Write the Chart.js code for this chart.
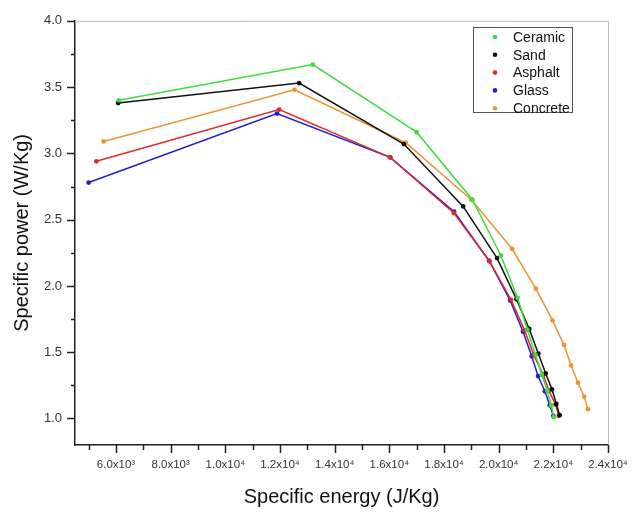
<!DOCTYPE html>
<html>
<head>
<meta charset="utf-8">
<script src="https://cdn.jsdelivr.net/npm/chart.js@4.4.1/dist/chart.umd.min.js"></script>
<style>
  html, body { margin: 0; padding: 0; background: #fff; }
  #wrap { width: 644px; height: 514px; }
</style>
</head>
<body>
<div id="wrap"><canvas id="chart"></canvas></div>
<script>
// data
const seriesNames = ['Ceramic', 'Sand', 'Asphalt', 'Glass', 'Concrete']

const ceramicEnergy = [6100, 13200, 17000, 19040, 20080, 20690, 21050, 21350, 21580, 21780, 21920, 22020]
const ceramicPower = [3.40, 3.67, 3.16, 2.65, 2.23, 1.91, 1.67, 1.48, 1.33, 1.21, 1.10, 1.01]

const sandEnergy = [6080, 12700, 16530, 18700, 19940, 20650, 21120, 21450, 21720, 21950, 22110, 22230]
const sandPower = [3.38, 3.53, 3.07, 2.60, 2.21, 1.90, 1.675, 1.49, 1.34, 1.22, 1.11, 1.025]

const asphaltEnergy = [5280, 11970, 16030, 18360, 19670, 20450, 20950, 21280, 21630, 21840, 22080, 22200]
const asphaltPower = [2.94, 3.33, 2.97, 2.55, 2.185, 1.895, 1.665, 1.48, 1.33, 1.21, 1.105, 1.02]

const glassEnergy = [5000, 11890, 16030, 18370, 19650, 20420, 20890, 21210, 21440, 21690, 21870, 22000]
const glassPower = [2.78, 3.30, 2.97, 2.56, 2.19, 1.89, 1.655, 1.47, 1.32, 1.205, 1.10, 1.02]

const concreteEnergy = [5550, 12530, 16600, 19000, 20490, 21360, 21970, 22390, 22650, 22900, 23130, 23265]
const concretePower = [3.09, 3.48, 3.08, 2.65, 2.28, 1.98, 1.74, 1.555, 1.40, 1.27, 1.165, 1.07]

// axis ticks
const xTicks = [6000, 8000, 10000, 12000, 14000, 16000, 18000, 20000, 22000, 24000]
const xMinorTicks = [5000, 7000, 9000, 11000, 13000, 15000, 17000, 19000, 21000, 23000]
const yTicks = [1.0, 1.5, 2.0, 2.5, 3.0, 3.5, 4.0]
const yMinorTicks = [1.25, 1.75, 2.25, 2.75, 3.25, 3.75]

const colors = ['#3fdc3f', '#111111', '#dd2a2a', '#2020cc', '#ec9432']
const FONT = "'Liberation Sans', Arial, sans-serif"

const toPoints = (xs, ys) => xs.map((x, i) => ({ x: x, y: ys[i] }))
const seriesData = [
  toPoints(ceramicEnergy, ceramicPower),
  toPoints(sandEnergy, sandPower),
  toPoints(asphaltEnergy, asphaltPower),
  toPoints(glassEnergy, glassPower),
  toPoints(concreteEnergy, concretePower),
]

const sup = { '0': '⁰', '1': '¹', '2': '²', '3': '³', '4': '⁴', '5': '⁵', '6': '⁶', '7': '⁷', '8': '⁸', '9': '⁹' }
function sciLabel(v) {
  const exp = Math.floor(Math.log10(v))
  const mant = (v / Math.pow(10, exp)).toFixed(1)
  return mant + 'x10' + String(exp).split('').map(c => sup[c]).join('')
}

// ticks (major + minor), frame and legend box
const decorPlugin = {
  id: 'decor',
  afterDraw(chart) {
    const ctx = chart.ctx
    const area = chart.chartArea
    const xs = chart.scales.x
    const ys = chart.scales.y
    ctx.save()
    // light frame on top and right
    ctx.strokeStyle = '#bdbdbd'
    ctx.lineWidth = 1
    ctx.beginPath()
    ctx.moveTo(area.left, area.top + 0.5)
    ctx.lineTo(area.right + 0.5, area.top + 0.5)
    ctx.lineTo(area.right + 0.5, area.bottom)
    ctx.stroke()

    ctx.strokeStyle = '#222'
    ctx.lineWidth = 1.5
    ctx.beginPath()
    const xTick = (v, len) => {
      const px = Math.round(xs.getPixelForValue(v)) + 0.5
      ctx.moveTo(px, area.bottom)
      ctx.lineTo(px, area.bottom + len)
    }
    const yTick = (v, len) => {
      const py = Math.round(ys.getPixelForValue(v)) + 0.5
      ctx.moveTo(area.left, py)
      ctx.lineTo(area.left - len, py)
    }
    xTicks.forEach(v => xTick(v, 8))
    xMinorTicks.forEach(v => xTick(v, 5))
    yTicks.forEach(v => yTick(v, 8))
    yMinorTicks.forEach(v => yTick(v, 4))
    ctx.stroke()

    // legend
    const bx = 473, by = 27, bw = 99, bh = 85
    ctx.strokeStyle = '#555'
    ctx.lineWidth = 1
    ctx.strokeRect(bx + 0.5, by + 0.5, bw, bh)
    ctx.font = '14px ' + FONT
    ctx.textBaseline = 'middle'
    ctx.textAlign = 'left'
    chart.data.datasets.forEach((ds, i) => {
      const y = 37 + i * 17.8
      ctx.fillStyle = ds.borderColor
      ctx.beginPath()
      ctx.arc(495, y, 2.3, 0, Math.PI * 2)
      ctx.fill()
      ctx.fillStyle = '#111'
      ctx.fillText(ds.label, 513, y + 1)
    })
    ctx.restore()
  },
}

new Chart(document.getElementById('chart'), {
  type: 'line',
  data: {
    datasets: seriesNames.map((name, i) => ({
      label: name,
      data: seriesData[i],
      borderColor: colors[i],
      backgroundColor: colors[i],
      borderWidth: 1.5,
      pointRadius: 2.4,
      pointBorderWidth: 0,
      fill: false,
      tension: 0,
    })),
  },
  options: {
    responsive: true,
    maintainAspectRatio: false,
    animation: false,
    layout: { padding: { top: 18, right: 36, left: 0, bottom: 0 } },
    plugins: {
      legend: { display: false },
      tooltip: { enabled: false },
    },
    scales: {
      x: {
        type: 'linear',
        min: 4500,
        max: 24000,
        afterFit(scale) { scale.height = 69 },
        afterBuildTicks(scale) { scale.ticks = xTicks.map(v => ({ value: v })) },
        grid: { display: false, drawTicks: false },
        border: { display: true, color: '#222', width: 1.5 },
        ticks: {
          padding: 13,
          maxRotation: 0,
          autoSkip: false,
          color: '#333',
          font: { family: FONT, size: 11.5 },
          callback: v => sciLabel(v),
        },
        title: {
          display: true,
          text: 'Specific energy (J/Kg)',
          color: '#111',
          font: { family: FONT, size: 20 },
          padding: { top: 0, bottom: 5 },
        },
      },
      y: {
        type: 'linear',
        min: 0.8,
        max: 4.0,
        afterFit(scale) { scale.width = 75 },
        afterBuildTicks(scale) { scale.ticks = yTicks.map(v => ({ value: v })) },
        grid: { display: false, drawTicks: false },
        border: { display: true, color: '#222', width: 1.5 },
        ticks: {
          padding: 13,
          autoSkip: false,
          color: '#333',
          font: { family: FONT, size: 13 },
          callback: v => v.toFixed(1),
        },
        title: {
          display: true,
          text: 'Specific power (W/Kg)',
          color: '#111',
          font: { family: FONT, size: 20 },
          padding: { top: 10, bottom: 0 },
        },
      },
    },
  },
  plugins: [decorPlugin],
})
</script>
</body>
</html>
